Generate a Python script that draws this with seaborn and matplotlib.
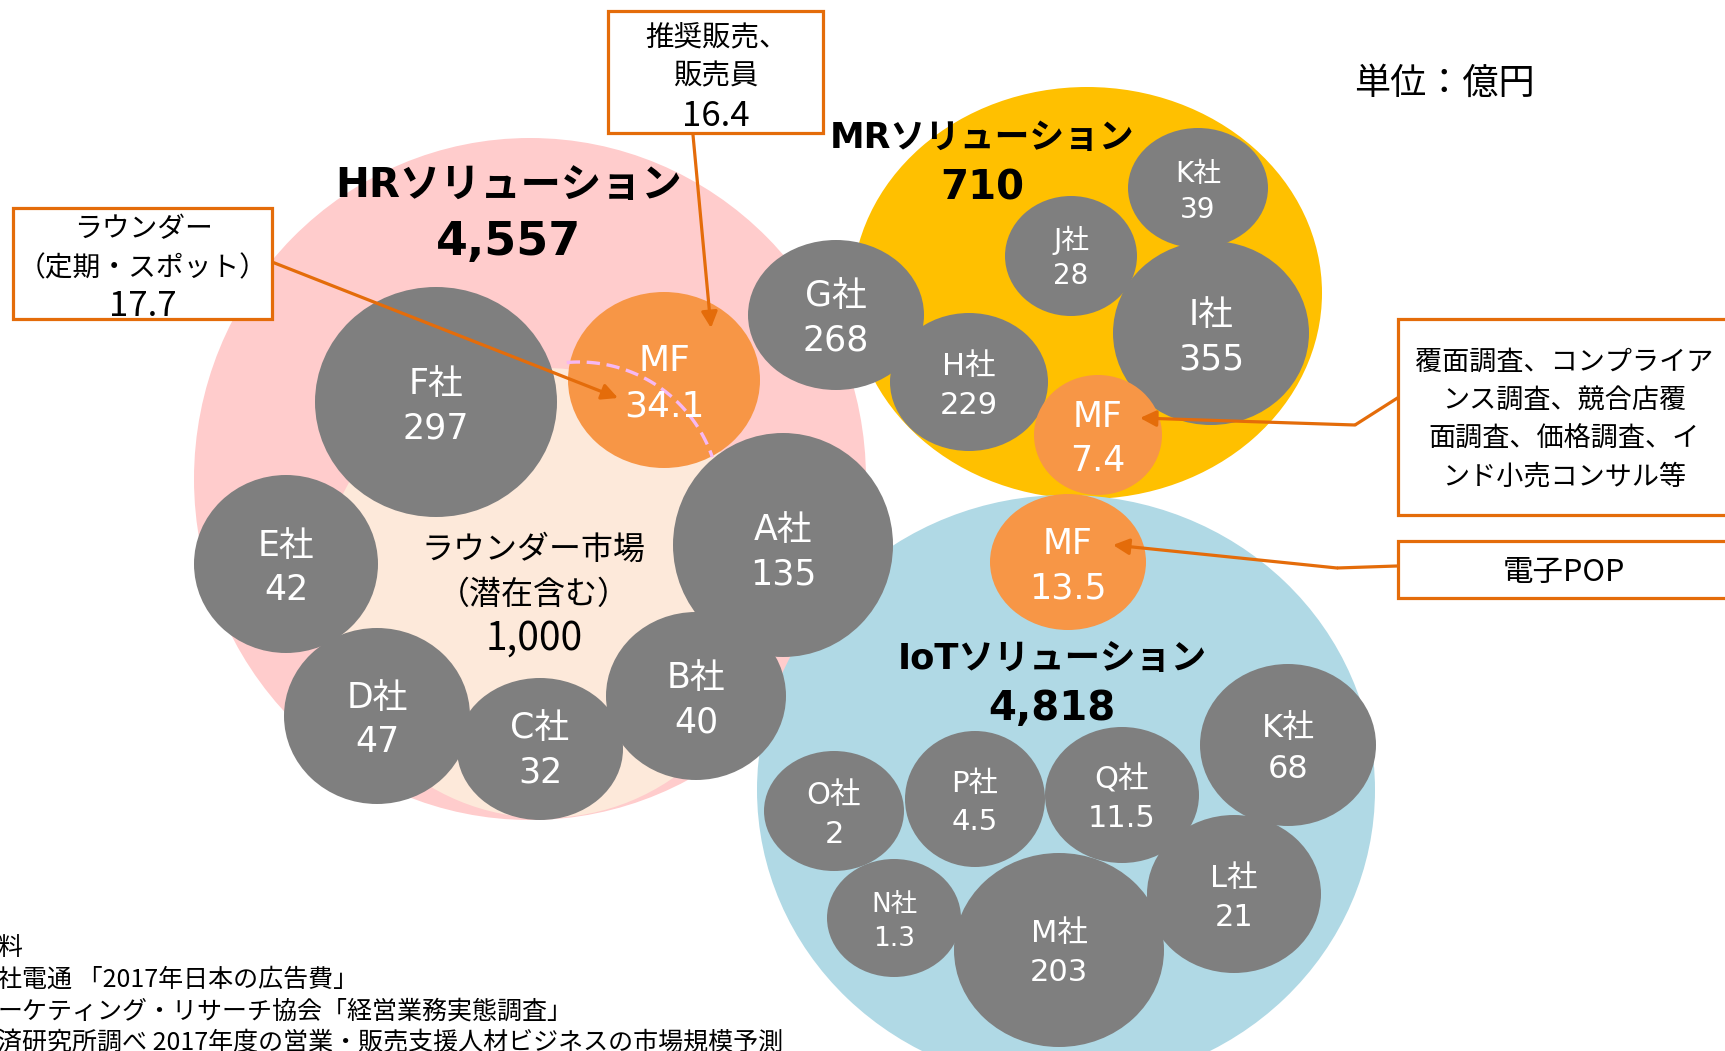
import numpy as np
import matplotlib
matplotlib.use("Agg")
import matplotlib.pyplot as plt
from matplotlib.patches import Ellipse, Rectangle
import seaborn as sns

# ---------------- data ----------------
segment_names = ["HRソリューション", "MRソリューション", "IoTソリューション"]
segment_totals = [4557, 710, 4818]

hr_names = ["F社", "MF", "A社", "B社", "C社", "D社", "E社"]
hr_values = [297, 34.1, 135, 40, 32, 47, 42]

mr_names = ["G社", "H社", "I社", "J社", "K社", "MF"]
mr_values = [268, 229, 355, 28, 39, 7.4]

iot_names = ["MF", "K社", "O社", "P社", "Q社", "L社", "N社", "M社"]
iot_values = [13.5, 68, 2, 4.5, 11.5, 21, 1.3, 203]

rounder_lines = ["ラウンダー市場", "（潜在含む）"]
rounder_value = 1000

callout_lines = [
    ["ラウンダー", "（定期・スポット）"],
    ["推奨販売、", "販売員"],
    ["覆面調査、コンプライア", "ンス調査、競合店覆", "面調査、価格調査、イ", "ンド小売コンサル等"],
    ["電子POP"],
]
callout_values = [17.7, 16.4, None, None]

unit_label = "単位：億円"
source_lines = [
    "料",
    "社電通 「2017年日本の広告費」",
    "ーケティング・リサーチ協会「経営業務実態調査」",
    "済研究所調べ 2017年度の営業・販売支援人材ビジネスの市場規模予測",
]

# ---------------- layout (pixels) ----------------
# (cx, cy, rx, ry, fontsize, extra label shift)
hr_layout = [(436, 402, 121, 115, 25, 0), (664, 380, 96, 88, 26, 0), (783, 545, 110, 112, 25, 3),
             (696, 696, 90, 84, 25, 0), (540, 749, 83, 71, 25, -3), (377, 716, 93, 88, 25, 0),
             (286, 564, 92, 89, 25, 0)]
mr_layout = [(836, 315, 88, 75, 25, -1), (969, 382, 79, 69, 22, 0), (1211, 333, 98, 92, 25, 0),
             (1071, 256, 66, 60, 20, -2), (1198, 188, 70, 60, 20, 0), (1098, 435, 64, 60, 25, 0)]
iot_layout = [(1068, 562, 78, 68, 25, 0), (1288, 745, 88, 81, 23, 0), (834, 811, 70, 60, 22, 0),
              (975, 799, 70, 68, 21, 0), (1122, 795, 77, 68, 22, 0), (1234, 894, 87, 79, 22, 0),
              (894, 918, 67, 59, 19, 0), (1059, 950, 105, 97, 22, -1)]

GRAY = "#7F7F7F"
MFC = "#F79646"
ORANGE = "#E46C0A"
PINK = "#FFCCCC"
PEACH = "#FDE9DA"
YELLOW = "#FFC000"
BLUE = "#B0D9E5"
DASH = "#F6B8F2"

sns.set_theme(style="white")
LAT = ["DejaVu Sans", "Noto Sans CJK JP"]
JP = ["Noto Sans CJK JP", "DejaVu Sans"]
plt.rcParams["font.family"] = LAT

W, H = 1725, 1051
fig = plt.figure(figsize=(W / 100, H / 100), dpi=100)
ax = fig.add_axes([0, 0, 1, 1])
ax.set_xlim(0, W)
ax.set_ylim(H, 0)
ax.set_aspect("auto")
ax.axis("off")


def ell(cx, cy, rx, ry, color, z, alpha=1.0):
    ax.add_patch(Ellipse((cx, cy), 2 * rx, 2 * ry, facecolor=color, edgecolor="none",
                         zorder=z, alpha=alpha))


# segment circles
ell(530, 479, 336, 341, PINK, 1)
ell(545, 593, 225, 225, PEACH, 2)
ell(1087, 293, 235, 206, YELLOW, 3)
ell(1066, 790, 309, 295, BLUE, 3)

LABEL_SHIFT = 4


def bubbles(names, values, layout):
    for name, val, (cx, cy, rx, ry, fs, dy) in zip(names, values, layout):
        ell(cx, cy, rx, ry, MFC if name == "MF" else GRAY, 5)
        gap = 1.27 * fs * 100 / 72
        yc = cy + LABEL_SHIFT + dy
        ax.text(cx, yc - gap / 2, name, ha="center", va="center", fontsize=fs,
                color="white", family=LAT, zorder=9)
        ax.text(cx, yc + gap / 2, f"{val:g}", ha="center", va="center", fontsize=fs,
                color="white", family=LAT, zorder=9)


bubbles(hr_names, hr_values, hr_layout)
bubbles(mr_names, mr_values, mr_layout)
bubbles(iot_names, iot_values, iot_layout)

# dashed boundary of the rounder market over the MF bubble
t = np.radians(np.linspace(-95, -19, 60))
ax.plot(579 + 141 * np.cos(t), 503 + 141 * np.sin(t), color=DASH, lw=2.4,
        ls=(0, (4, 2)), zorder=6, solid_capstyle="butt")

# segment titles
title_pos = [(509, 186, 242, 29, 33), (982, 138, 188, 25, 29), (1052, 659, 709, 25.5, 29)]
for name, tot, (x, y1, y2, fs1, fs2) in zip(segment_names, segment_totals, title_pos):
    ax.text(x, y1, name, ha="center", va="center", fontsize=fs1, fontweight="bold",
            color="black", family=LAT, zorder=10)
    ax.text(x, y2, f"{tot:,}", ha="center", va="center", fontsize=fs2, fontweight="bold",
            color="black", family=LAT, zorder=10)

# rounder market text
for txt, y, fs in zip(rounder_lines + [f"{rounder_value:,}"], [550, 595, 639], [23, 23, 28]):
    ax.text(534, y, txt, ha="center", va="center", fontsize=fs, color="black",
            family=JP, zorder=10)

# callout boxes
boxes = [(13, 208, 259, 111), (608, 11, 215, 122), (1398, 319, 340, 196), (1398, 541, 340, 57)]
text_pos = [(143, [229, 268, 306], 20), (716, [37, 76, 116], 20.5),
            (1564, [362, 400, 439, 477], 19.5), (1564, [572], 22)]
for (bx, by, bw, bh), lines, val, (tx, ys, fs) in zip(boxes, callout_lines, callout_values, text_pos):
    ax.add_patch(Rectangle((bx, by), bw, bh, facecolor="white", edgecolor=ORANGE,
                           lw=2.3, zorder=11))
    for txt, y in zip(lines, ys):
        ax.text(tx, y, txt, ha="center", va="center", fontsize=fs, color="black",
                family=JP, zorder=12)
    if val is not None:
        ax.text(tx, ys[len(lines)], f"{val:g}", ha="center", va="center", fontsize=25,
                color="black", family=JP, zorder=12)

# leader lines with arrows
arrow_kw = dict(arrowstyle="-|>", color=ORANGE, lw=2.3, mutation_scale=24,
                shrinkA=0, shrinkB=0)
leaders = [
    [(272, 262), (618, 398)],
    [(693, 135), (711, 328)],
    [(1399, 397), (1355, 425), (1140, 418)],
    [(1397, 566), (1337, 568), (1113, 545)],
]
for pts in leaders:
    if len(pts) > 2:
        xs, ys = zip(*pts[:-1])
        ax.plot(xs, ys, color=ORANGE, lw=2.3, zorder=7, solid_capstyle="butt")
    ax.annotate("", xy=pts[-1], xytext=pts[-2], arrowprops=arrow_kw, zorder=7)

# unit label
ax.text(1444, 84, unit_label, ha="center", va="center", fontsize=26, color="black",
        family=JP, zorder=10)

# source notes (cut at the left edge as in the original)
for txt, y in zip(source_lines, [948, 980, 1012, 1043]):
    ax.text(-3, y, txt, ha="left", va="center", fontsize=18, color="black",
            family=JP, zorder=10)

fig.savefig("out.png", dpi=100)
